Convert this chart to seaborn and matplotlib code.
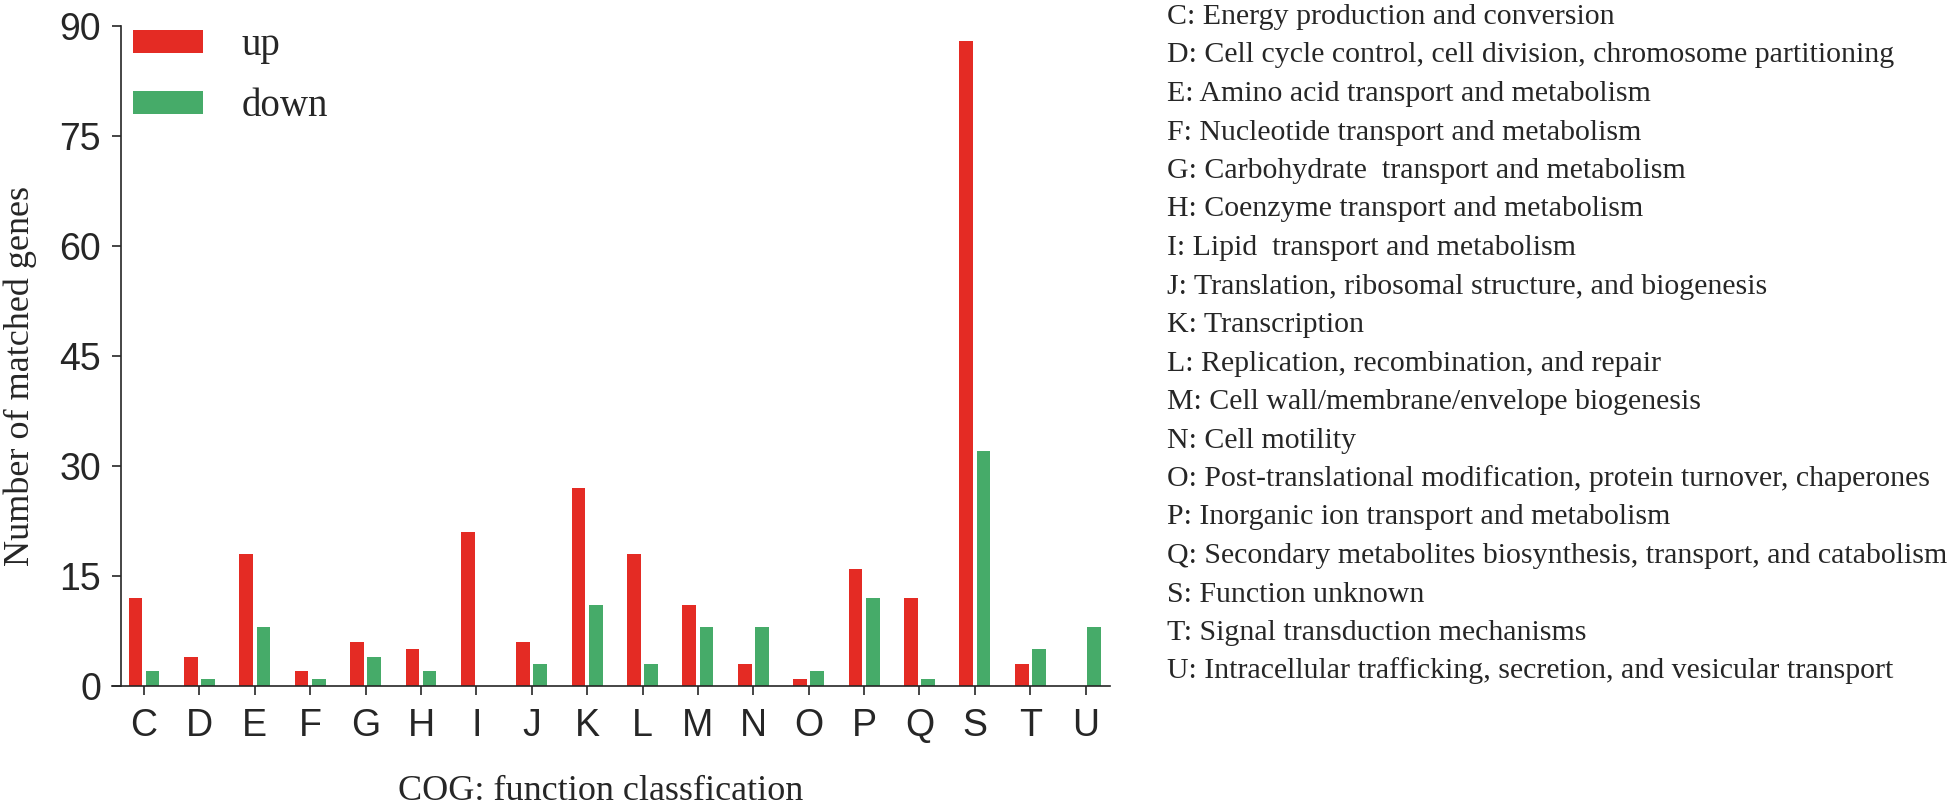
import pandas as pd
import matplotlib
matplotlib.use("Agg")
import matplotlib.pyplot as plt
import seaborn as sns

# COG categories and gene counts
categories = ["C", "D", "E", "F", "G", "H", "I", "J", "K", "L",
              "M", "N", "O", "P", "Q", "S", "T", "U"]
up_counts = [12, 4, 18, 2, 6, 5, 21, 6, 27, 18, 11, 3, 1, 16, 12, 88, 3, 0]
down_counts = [2, 1, 8, 1, 4, 2, 0, 3, 11, 3, 8, 8, 2, 12, 1, 32, 5, 8]
y_ticks = [0, 15, 30, 45, 60, 75, 90]

descriptions = [
    "C: Energy production and conversion",
    "D: Cell cycle control, cell division, chromosome partitioning",
    "E: Amino acid transport and metabolism",
    "F: Nucleotide transport and metabolism",
    "G: Carbohydrate  transport and metabolism",
    "H: Coenzyme transport and metabolism",
    "I: Lipid  transport and metabolism",
    "J: Translation, ribosomal structure, and biogenesis",
    "K: Transcription",
    "L: Replication, recombination, and repair",
    "M: Cell wall/membrane/envelope biogenesis",
    "N: Cell motility",
    "O: Post-translational modification, protein turnover, chaperones",
    "P: Inorganic ion transport and metabolism",
    "Q: Secondary metabolites biosynthesis, transport, and catabolism",
    "S: Function unknown",
    "T: Signal transduction mechanisms",
    "U: Intracellular trafficking, secretion, and vesicular transport",
]

df = pd.DataFrame({
    "category": categories * 2,
    "count": up_counts + down_counts,
    "direction": ["up"] * len(categories) + ["down"] * len(categories),
})

sns.set_style("ticks")
plt.rcParams["font.family"] = ["Liberation Sans", "DejaVu Sans"]

W, H = 1949, 806
fig = plt.figure(figsize=(W / 100, H / 100), dpi=100)
ax = fig.add_axes([112 / W, 1 - 686 / H, 998 / W, 660 / H])

palette = {"up": "#E42B24", "down": "#46AB69"}
sns.barplot(data=df, x="category", y="count", hue="direction",
            order=categories, hue_order=["up", "down"], palette=palette,
            width=0.62, gap=0.2, linewidth=0, saturation=1, ax=ax)

ax.set_xlim(-0.578, 17.44)
ax.set_ylim(0, 90)
ax.set_yticks(y_ticks)

serif = ["Liberation Serif", "DejaVu Serif"]

# axes styling (Prism look)
for side in ["top", "right"]:
    ax.spines[side].set_visible(False)
ax.spines["left"].set_position(("data", -0.415))
ax.spines["left"].set_linewidth(1.2)
ax.spines["bottom"].set_linewidth(1.2)
ax.tick_params(axis="both", length=6.5, width=1.2, labelsize=27, pad=8)
ax.tick_params(axis="x", pad=9)

ax.set_xlabel("COG: function classfication", fontsize=26, family=serif)
ax.set_ylabel("Number of matched genes", fontsize=26, family=serif)
ax.xaxis.set_label_coords(0.49, -0.135)
ax.yaxis.set_label_coords(-0.075, 0.47)

handles, labels = ax.get_legend_handles_labels()
ax.legend(handles, labels, loc="upper left", bbox_to_anchor=(0.021, 0.998),
          frameon=False, borderpad=0, borderaxespad=0, handlelength=1.8,
          handleheight=0.55, handletextpad=1.0, labelspacing=0.62,
          prop={"family": serif, "size": 28})

# category descriptions on the right
for i, text in enumerate(descriptions):
    fig.text(1167 / W, 1 - (24 + i * 38.5) / H, text, fontsize=21.5,
             family=serif, va="baseline", ha="left")

fig.savefig("out.png", dpi=100)
